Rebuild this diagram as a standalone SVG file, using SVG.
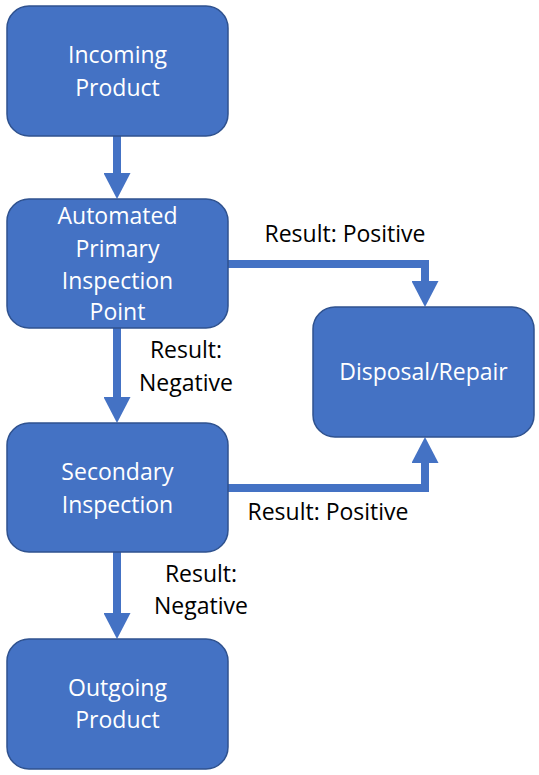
<svg xmlns="http://www.w3.org/2000/svg" width="539" height="775" viewBox="0 0 539 775">
<style>
.box{fill:#4472C4;stroke:#2F528F;stroke-width:1.5}
.wt{fill:#FFFFFF;font-family:"Open Sans","Liberation Sans",sans-serif;font-size:23px;text-anchor:middle}
.bt{fill:#000000;font-family:"Open Sans","Liberation Sans",sans-serif;font-size:23px;text-anchor:middle}
.con{fill:none;stroke:#4472C4;stroke-width:8;marker-end:url(#ah)}
</style>
<defs>
<marker id="ah" viewBox="0 0 26 27" refX="0" refY="13.5" markerWidth="26" markerHeight="27" markerUnits="userSpaceOnUse" orient="auto">
<path d="M0,0 L26,13.5 L0,27 Z" fill="#4472C4"/>
</marker>
</defs>
<rect width="539" height="775" fill="#FFFFFF"/>
<g id="connectors">
<path class="con" d="M117,136 V173"/>
<path class="con" d="M117,328 V397"/>
<path class="con" d="M117,552 V613"/>
<path class="con" d="M228,264 H425 V281"/>
<path class="con" d="M228,488 H425 V463"/>
</g>
<g id="incoming">
<rect class="box" x="7" y="6" width="221" height="130" rx="22"/>
<text class="wt" x="117.5" y="63">Incoming</text>
<text class="wt" x="117.5" y="96">Product</text>
</g>
<g id="primary">
<rect class="box" x="7" y="199" width="221" height="129" rx="22"/>
<text class="wt" x="117.5" y="224">Automated</text>
<text class="wt" x="117.5" y="257">Primary</text>
<text class="wt" x="117.5" y="289">Inspection</text>
<text class="wt" x="117.5" y="320">Point</text>
</g>
<g id="secondary">
<rect class="box" x="7" y="423" width="221" height="129" rx="22"/>
<text class="wt" x="117.5" y="480">Secondary</text>
<text class="wt" x="117.5" y="513">Inspection</text>
</g>
<g id="outgoing">
<rect class="box" x="7" y="639" width="221" height="130" rx="22"/>
<text class="wt" x="117.5" y="696">Outgoing</text>
<text class="wt" x="117.5" y="728">Product</text>
</g>
<g id="disposal">
<rect class="box" x="313" y="307" width="221" height="130" rx="22"/>
<text class="wt" x="423.5" y="380">Disposal/Repair</text>
</g>
<g id="labels">
<text class="bt" x="345" y="242">Result: Positive</text>
<text class="bt" x="186" y="358">Result:</text>
<text class="bt" x="186" y="391">Negative</text>
<text class="bt" x="328" y="520">Result: Positive</text>
<text class="bt" x="201" y="582">Result:</text>
<text class="bt" x="201" y="614">Negative</text>
</g>
</svg>
